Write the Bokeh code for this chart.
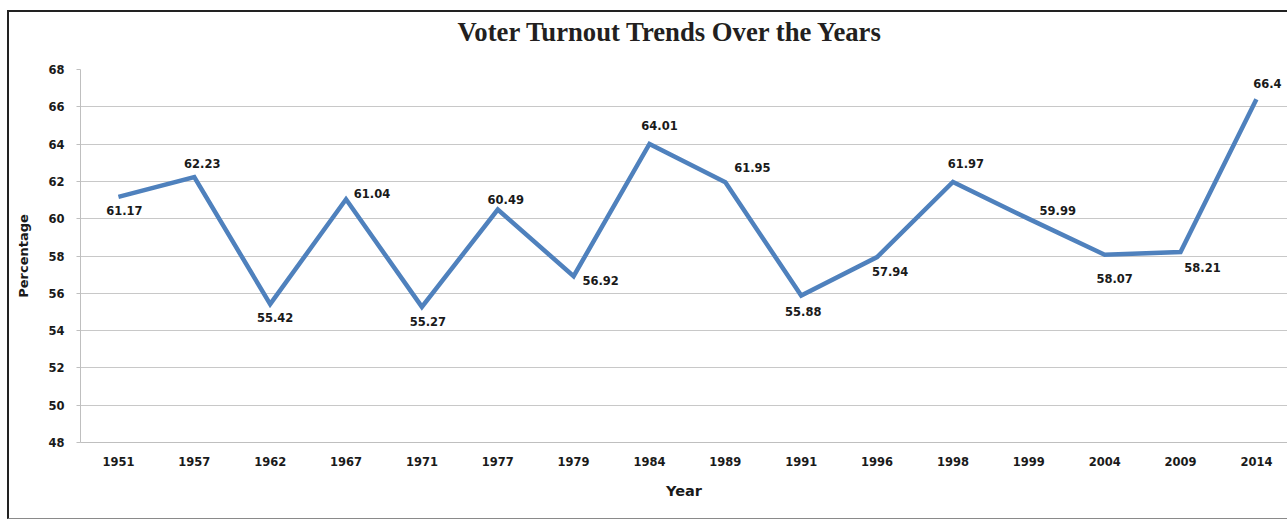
from bokeh.plotting import figure
from bokeh.layouts import column
from bokeh.models import ColumnDataSource, LabelSet, FixedTicker, Range1d
from bokeh.core.properties import value
from bokeh.embed import file_html
from bokeh.resources import INLINE

title_text = "Voter Turnout Trends Over the Years"
years = ["1951", "1957", "1962", "1967", "1971", "1977", "1979", "1984",
         "1989", "1991", "1996", "1998", "1999", "2004", "2009", "2014"]
turnout = [61.17, 62.23, 55.42, 61.04, 55.27, 60.49, 56.92, 64.01,
           61.95, 55.88, 57.94, 61.97, 59.99, 58.07, 58.21, 66.4]
y_ticks = [48, 50, 52, 54, 56, 58, 60, 62, 64, 66, 68]

# label placement (screen pixel offsets, style only)
label_dx = [6, 8, 5, 26, 6, 8, 27, 10, 27, 2, 13, 13, 29, 10, 22, 11]
label_dy = [-14, 14, -13, 6, -15, 10, -4, 18, 15, -16, -14, 18, 8, -24, -15, 16]

idx = list(range(len(years)))
src = ColumnDataSource(dict(x=idx, y=turnout, txt=["%g" % v for v in turnout],
                            dx=label_dx, dy=label_dy))

p = figure(width=1278, height=527, output_backend="svg", toolbar_location=None,
           x_range=Range1d(-0.5, 15.41), y_range=Range1d(48, 68),
           title=title_text,
           min_border_left=71, min_border_right=0, min_border_top=78, min_border_bottom=76)
p.styles = {"margin-top": "-21px"}
p.border_fill_color = None

p.title.text_font = "Liberation Serif"
p.title.text_font_style = "bold"
p.title.text_font_size = "26.7px"
p.title.text_color = "#231f20"
p.title.align = "left"
p.title.offset = 377
p.title.standoff = 46

p.outline_line_color = None
p.background_fill_color = "white"

p.line("x", "y", source=src, line_color="#4F81BD", line_width=4.5, line_join="miter")

labels = LabelSet(x="x", y="y", text="txt", source=src, x_offset="dx", y_offset="dy",
                  text_align="center", text_baseline="middle",
                  text_font=value("DejaVu Sans"), text_font_style="bold",
                  text_font_size="11.5px", text_color="#1a1a1a")
p.add_layout(labels)

p.xaxis.ticker = FixedTicker(ticks=idx)
p.xaxis.major_label_overrides = {i: y for i, y in enumerate(years)}
p.yaxis.ticker = FixedTicker(ticks=y_ticks)

for ax in (p.xaxis[0], p.yaxis[0]):
    ax.axis_line_color = "#bfbfbf"
    ax.axis_line_width = 1
    ax.major_label_text_font = "DejaVu Sans"
    ax.major_label_text_font_style = "bold"
    ax.major_label_text_font_size = "11.5px"
    ax.major_label_text_color = "#1a1a1a"
    ax.minor_tick_line_color = None
    ax.axis_label_text_font = "DejaVu Sans"
    ax.axis_label_text_font_style = "bold"
    ax.axis_label_text_color = "#1a1a1a"

p.xaxis.major_tick_line_color = None
p.xaxis.major_label_standoff = 8
p.xaxis.axis_label = "Year"
p.xaxis.axis_label_text_font_size = "14.5px"
p.xaxis.axis_label_standoff = 14

p.yaxis.major_tick_line_color = "#bfbfbf"
p.yaxis.major_tick_out = 4
p.yaxis.major_tick_in = 0
p.yaxis.major_label_standoff = 12
p.yaxis.axis_label = "Percentage"
p.yaxis.axis_label_text_font_size = "13px"
p.yaxis.axis_label_standoff = 14

p.xgrid.grid_line_color = None
p.ygrid.grid_line_color = "#c8c8c8"
p.ygrid.grid_line_width = 1

layout = column(p, styles={"margin-left": "7px", "margin-top": "10px",
                           "border-top": "2px solid #222222",
                           "border-left": "2px solid #222222",
                           "border-bottom": "1px solid #8a8a8a",
                           "background-color": "white"})

open("out.html", "w").write(file_html(layout, INLINE))
